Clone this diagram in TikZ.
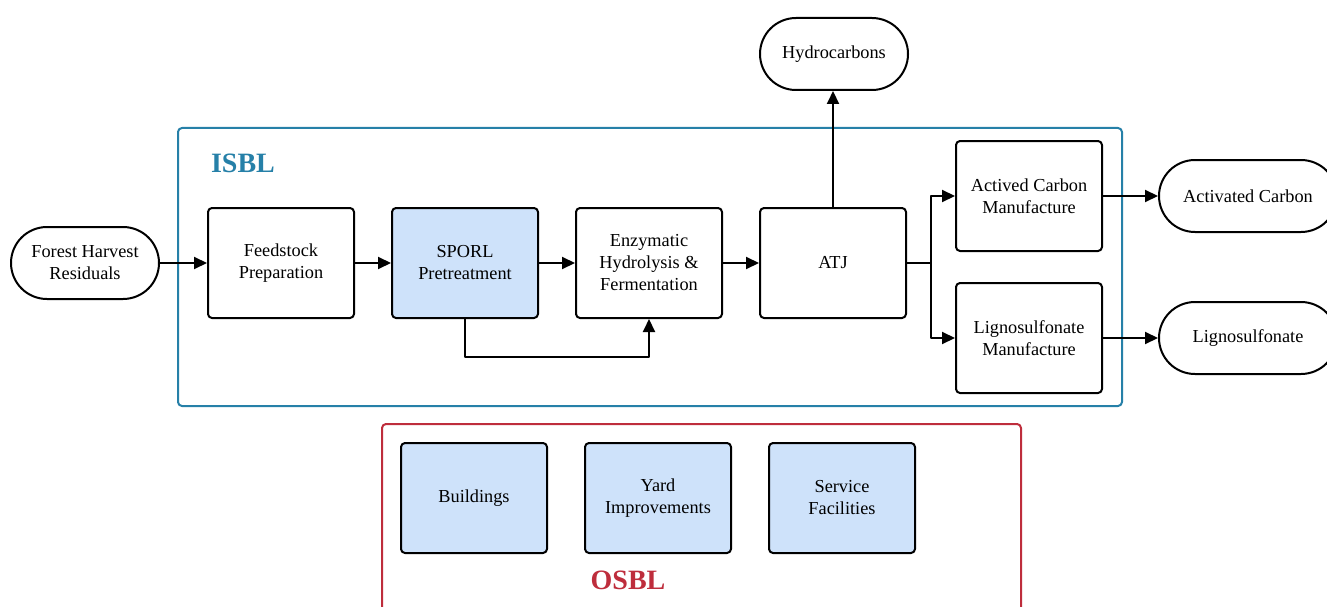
\documentclass[tikz,border=0pt]{standalone}
\usepackage{fontspec}
\setmainfont{Liberation Serif}
\usetikzlibrary{arrows.meta}
\definecolor{isblblue}{RGB}{38,128,168}
\definecolor{osblred}{RGB}{190,45,60}
\definecolor{lightfill}{RGB}{206,226,250}
\tikzset{
  every picture/.style={line join=round},
  procbox/.style={draw=black, line width=2pt, rounded corners=4pt, minimum width=146pt, minimum height=110pt, align=center, font=\fontsize{18.3}{22}\selectfont, inner sep=2pt},
  shaded/.style={procbox, fill=lightfill},
  terminal/.style={draw=black, line width=2pt, rounded corners=36pt, minimum height=72pt, align=center, font=\fontsize{18.3}{22}\selectfont, inner sep=2pt},
  flow/.style={line width=2pt, -{Triangle[length=13pt,width=12pt]}},
  plain/.style={line width=2pt},
  region/.style={line width=2pt, rounded corners=4pt},
  regionlabel/.style={font=\fontsize{28}{32}\selectfont\bfseries}
}
\begin{document}
\begin{tikzpicture}[x=1pt,y=-1pt]
\useasboundingbox (0,0) rectangle (1327,607);
\clip (0,0) rectangle (1327,607);
% regions
\draw[region, draw=isblblue] (178,128) rectangle (1122,406);
\node[regionlabel, text=isblblue] (isbl) at (243,163) {ISBL};
\draw[region, draw=osblred] (382,424) rectangle (1021,640);
\node[regionlabel, text=osblred] (osbl) at (628,580) {OSBL};
% terminals
\node[terminal, minimum width=148pt] (fhr) at (85,263) {Forest Harvest\\Residuals};
\node[terminal, minimum width=148pt] (hyd) at (834,54) {Hydrocarbons};
\node[terminal, minimum width=178pt] (actc) at (1248,196) {Activated Carbon};
\node[terminal, minimum width=178pt] (lig) at (1248,338) {Lignosulfonate};
% process boxes
\node[procbox] (feed) at (281,263) {Feedstock\\Preparation};
\node[shaded] (sporl) at (465,263) {SPORL\\Pretreatment};
\node[procbox] (enz) at (649,263) {Enzymatic\\Hydrolysis \&\\Fermentation};
\node[procbox] (atj) at (833,263) {ATJ};
\node[procbox] (acm) at (1029,196) {Actived Carbon\\Manufacture};
\node[procbox] (lsm) at (1029,338) {Lignosulfonate\\Manufacture};
% OSBL boxes
\node[shaded] (bld) at (474,498) {Buildings};
\node[shaded] (yard) at (658,498) {Yard\\Improvements};
\node[shaded] (serv) at (842,498) {Service\\Facilities};
% connectors
\draw[flow] (fhr) -- (feed);
\draw[flow] (feed) -- (sporl);
\draw[flow] (sporl) -- (enz);
\draw[flow] (enz) -- (atj);
\draw[flow] (sporl.south) -- ++(0,38) -| (enz.south);
\draw[flow] (atj.north) -- (atj.north |- hyd.south);
\coordinate (br) at (931,263);
\draw[plain] (atj.east) -- (br);
\draw[flow] (br) |- (acm.west);
\draw[flow] (br) |- (lsm.west);
\draw[flow] (acm.east) -- (actc.west);
\draw[flow] (lsm.east) -- (lig.west);
\end{tikzpicture}
\end{document}
